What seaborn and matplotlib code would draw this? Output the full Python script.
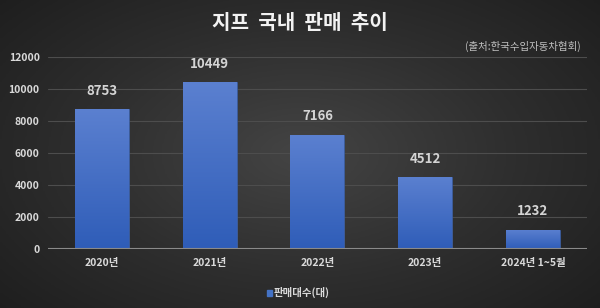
import numpy as np
import pandas as pd
import matplotlib
matplotlib.use("Agg")
import matplotlib.pyplot as plt
import seaborn as sns
from matplotlib.colors import LinearSegmentedColormap

years = ['2020년', '2021년', '2022년', '2023년', '2024년 1~5월']
sales = [8753, 10449, 7166, 4512, 1232]
yticks = [0, 2000, 4000, 6000, 8000, 10000, 12000]

df = pd.DataFrame({'year': years, 'sales': sales})

sns.set_style('dark')
plt.rcParams['font.family'] = ['Noto Sans CJK KR', 'DejaVu Sans']

fig = plt.figure(figsize=(6, 3.08), dpi=100)

# fondo con degradado radial
bg = fig.add_axes([0, 0, 1, 1], zorder=-10)
yy, xx = np.mgrid[-1:1:200j, -1:1:400j]
r = np.sqrt((xx * 0.9) ** 2 + (yy * 0.8) ** 2)
bg_cmap = LinearSegmentedColormap.from_list('bg', ['#444444', '#2e2e2e', '#1c1c1c'])
bg.imshow(r, cmap=bg_cmap, aspect='auto', extent=[0, 1, 0, 1], vmin=0, vmax=1.3)
bg.axis('off')

ax = fig.add_axes([0.08, 0.19, 0.898, 0.625])
ax.patch.set_alpha(0)
sns.barplot(x='year', y='sales', data=df, color='#4472c4', width=0.5, ax=ax, zorder=3)

# degradado dentro de cada barra
bar_cmap = LinearSegmentedColormap.from_list('bar', ['#2f5db8', '#5b80d0'])
grad = np.linspace(0, 1, 100).reshape(-1, 1)
for p in ax.patches:
    x0, w, h = p.get_x(), p.get_width(), p.get_height()
    im = ax.imshow(grad, cmap=bar_cmap, aspect='auto', origin='lower',
                   extent=[x0, x0 + w, 0, h], zorder=4)
    im.set_clip_path(p)
    p.set_edgecolor('#3a5fa8')
    p.set_linewidth(0.5)

ax.set_xlim(-0.5, 4.5)
ax.set_ylim(0, 12000)
ax.set_yticks(yticks)
ax.set_yticklabels([str(v) for v in yticks])
ax.grid(axis='y', color='#4d4d4d', linewidth=0.8, zorder=0)
ax.axhline(0, color='#8a8a8a', linewidth=1.5, zorder=5)
for s in ax.spines.values():
    s.set_visible(False)
ax.tick_params(axis='both', length=0, colors='#d9d9d9', labelsize=7.5, pad=6)
for t in ax.get_xticklabels() + ax.get_yticklabels():
    t.set_fontweight('bold')
ax.set_xlabel('')
ax.set_ylabel('')

for i, v in enumerate(sales):
    ax.text(i, v + 700, str(v), ha='center', va='bottom', color='#d4d4d4',
            fontsize=9.5, fontweight='bold')

fig.text(0.5, 0.928, '지프  국내  판매  추이', ha='center', va='center',
         color='#f2f2f2', fontsize=14.5, fontweight='bold')
fig.text(0.968, 0.85, '(출처:한국수입자동차협회)', ha='right', va='center',
         color='#bfbfbf', fontsize=7.5)

# leyenda
fig.patches.append(plt.Rectangle((0.445, 0.04), 0.009, 0.017, transform=fig.transFigure,
                                 color='#4472c4'))
fig.text(0.456, 0.049, '판매대수(대)', ha='left', va='center', color='#d9d9d9',
         fontsize=7.5, fontweight='bold')

fig.savefig('out.png', dpi=100)
